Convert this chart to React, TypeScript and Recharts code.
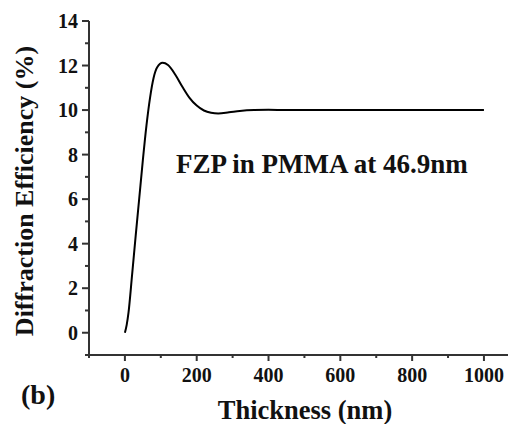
import React from 'react';
import { LineChart, Line, XAxis, YAxis, Label } from 'recharts';

// values
const thickness = [0, 5, 10, 20, 30, 40, 50, 60, 70, 80, 90, 105, 120, 140, 160, 180, 200, 220, 240, 260, 290, 320, 360, 400, 450, 500, 600, 700, 800, 900, 1000];
const efficiency = [0, 0.35, 0.9, 2.6, 4.35, 6.05, 7.75, 9.3, 10.55, 11.45, 11.92, 12.12, 12.02, 11.6, 11.05, 10.55, 10.2, 9.98, 9.88, 9.85, 9.9, 9.96, 10.0, 10.01, 10.0, 10.0, 10.0, 10.0, 10.0, 10.0, 10.0];

const xTicks = [-100, 0, 100, 200, 300, 400, 500, 600, 700, 800, 900, 1000];
const yTicks = [-1, 0, 1, 2, 3, 4, 5, 6, 7, 8, 9, 10, 11, 12, 13, 14];

const data = thickness.map((t, i) => ({ t, v: efficiency[i] }));

const AXIS = '#333';
const FONT = '"Liberation Serif", "Times New Roman", serif';

const XTick = ({ x, y, payload }: any) => {
    const major = payload.value % 200 === 0;
    return (
        <g>
            <line x1={x} x2={x} y1={y} y2={y + (major ? 6 : 3)} stroke={AXIS} strokeWidth={2} />
            {major && (
                <text x={x} y={y + 27} textAnchor="middle" fontFamily={FONT} fontWeight="bold" fontSize={20} fill="#111">
                    {payload.value}
                </text>
            )}
        </g>
    );
};

const YTick = ({ x, y, payload }: any) => {
    const major = payload.value % 2 === 0;
    return (
        <g>
            <line x1={x} x2={x - (major ? 7 : 4)} y1={y} y2={y} stroke={AXIS} strokeWidth={2} />
            {major && (
                <text x={x - 11} y={y + 7} textAnchor="end" fontFamily={FONT} fontWeight="bold" fontSize={20} fill="#111">
                    {payload.value}
                </text>
            )}
        </g>
    );
};

export default function App() {
    return (
        <div style={{ position: 'absolute', left: 0, top: 0, width: 508, height: 424, background: '#fff' }}>
            <LineChart width={508} height={424} data={data} margin={{ top: 21, right: 0, left: 88, bottom: 68 }}>
                <XAxis
                    dataKey="t"
                    type="number"
                    domain={[-100, 1067]}
                    ticks={xTicks}
                    interval={0}
                    height={1}
                    tickSize={0}
                    tickMargin={0}
                    tickLine={false}
                    tick={<XTick />}
                    axisLine={{ stroke: AXIS, strokeWidth: 2 }}
                    allowDataOverflow
                >
                    <Label
                        content={() => (
                            <text x={305} y={419} textAnchor="middle" fontFamily={FONT} fontWeight="bold" fontSize={26.5} fill="#111">
                                Thickness (nm)
                            </text>
                        )}
                    />
                </XAxis>
                <YAxis
                    type="number"
                    domain={[-1, 14]}
                    ticks={yTicks}
                    interval={0}
                    width={1}
                    tickSize={0}
                    tickMargin={0}
                    tickLine={false}
                    tick={<YTick />}
                    axisLine={{ stroke: AXIS, strokeWidth: 2 }}
                    allowDataOverflow
                >
                    <Label
                        content={() => (
                            <text
                                x={33}
                                y={191}
                                transform="rotate(-90 33 191)"
                                textAnchor="middle"
                                fontFamily={FONT}
                                fontWeight="bold"
                                fontSize={26}
                                fill="#111"
                            >
                                Diffraction Efficiency (%)
                            </text>
                        )}
                    />
                </YAxis>
                <Line type="monotone" dataKey="v" stroke="#000" strokeWidth={2} dot={false} isAnimationActive={false} />
            </LineChart>
            <svg width={508} height={424} style={{ position: 'absolute', left: 0, top: 0, pointerEvents: 'none' }}>
                <text x={176} y={173} fontFamily={FONT} fontWeight="bold" fontSize={27} fill="#111">
                    FZP in PMMA at 46.9nm
                </text>
                <text x={21} y={404} fontFamily={FONT} fontWeight="bold" fontSize={28} fill="#111">
                    (b)
                </text>
            </svg>
        </div>
    );
}
